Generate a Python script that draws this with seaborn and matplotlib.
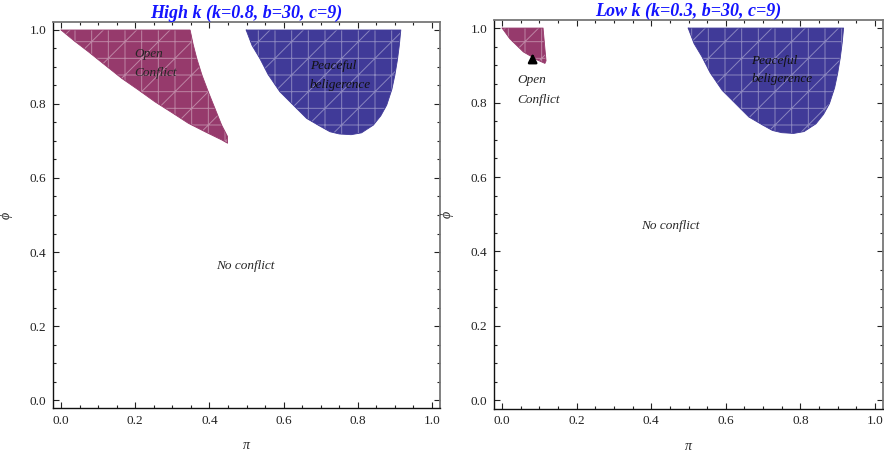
import matplotlib
matplotlib.use("Agg")
import matplotlib.pyplot as plt
import seaborn as sns
import numpy as np
import pandas as pd
from matplotlib.ticker import MultipleLocator

# ---------------- data ----------------
titles = ["High k (k=0.8, b=30, c=9)", "Low k (k=0.3, b=30, c=9)"]

# Open conflict region, high k
open_high_pi = [0.0, 0.348, 0.356, 0.366, 0.380, 0.397, 0.415, 0.433, 0.449, 0.449,
                0.433, 0.390, 0.343, 0.300, 0.253, 0.210, 0.164, 0.120, 0.074, 0.035, 0.0]
open_high_phi = [1.0, 1.0, 0.962, 0.923, 0.878, 0.833, 0.788, 0.743, 0.712, 0.694,
                 0.703, 0.724, 0.748, 0.776, 0.806, 0.837, 0.869, 0.904, 0.941, 0.971, 1.0]

# Open conflict region, low k
open_low_pi = [0.0, 0.110, 0.114, 0.118, 0.115, 0.093, 0.057, 0.021, 0.0]
open_low_phi = [1.0, 1.0, 0.955, 0.912, 0.905, 0.915, 0.936, 0.971, 1.0]

# Peaceful beligerence region (both panels)
peace_pi = [0.499, 0.916, 0.912, 0.907, 0.900, 0.892, 0.878, 0.862, 0.842, 0.810, 0.782,
            0.750, 0.725, 0.698, 0.662, 0.631, 0.590, 0.558, 0.536, 0.515, 0.499]
peace_phi = [1.0, 1.0, 0.959, 0.920, 0.878, 0.840, 0.797, 0.768, 0.743, 0.722, 0.717,
             0.719, 0.725, 0.740, 0.761, 0.792, 0.833, 0.880, 0.923, 0.958, 1.0]

# label positions
open_label_pos = [(0.198, 0.934, 0.883), (0.042, 0.860, 0.808)]
peace_label_pos = [(0.671, 0.903, 0.851), (0.669, 0.911, 0.862)]
noconf_label_pos = [(0.496, 0.362), (0.45, 0.468)]
arrow_low = ((0.082, 0.900), (0.082, 0.940))

tick_major = [0.0, 0.2, 0.4, 0.6, 0.8, 1.0]

# ---------------- style ----------------
sns.set_theme(style="ticks")
serif = ["Liberation Serif", "DejaVu Serif"]
plt.rcParams["font.family"] = serif
plt.rcParams["hatch.linewidth"] = 0.7
plt.rcParams["axes.facecolor"] = "white"

maroon = np.array([150, 58, 108]) / 255
navy = np.array([64, 58, 152]) / 255
def lighter(c, a=0.38):
    return tuple(c * (1 - a) + np.ones(3) * a)

fig = plt.figure(figsize=(8.84, 4.57), dpi=100)
W, H = 884, 457
ax1 = fig.add_axes([53 / W, 49 / H, 387 / W, 386 / H])
ax2 = fig.add_axes([494 / W, 48.5 / H, 389 / W, 388.5 / H])
axes = [ax1, ax2]

regions_open = [(open_high_pi, open_high_phi), (open_low_pi, open_low_phi)]

for i, ax in enumerate(axes):
    for (px, py), col in [(regions_open[i], maroon), ((peace_pi, peace_phi), navy)]:
        ax.fill(px, py, facecolor=tuple(col), edgecolor=lighter(col), linewidth=0,
                hatch="+/", zorder=2)
        df = pd.DataFrame({"pi": px, "phi": py})
        sns.lineplot(data=df, x="pi", y="phi", sort=False, estimator=None,
                     color=tuple(col), linewidth=0.6, ax=ax, zorder=3)

    ox, oy1, oy2 = open_label_pos[i]
    ax.text(ox, oy1, "Open", style="italic", fontsize=9.5, ha="left", va="center", zorder=5)
    ax.text(ox, oy2, "Conflict", style="italic", fontsize=9.5, ha="left", va="center", zorder=5)
    qx, qy1, qy2 = peace_label_pos[i]
    ax.text(qx, qy1, "Peaceful", style="italic", fontsize=9.5, ha="left", va="center",
            color="#111111", zorder=5)
    ax.text(qx, qy2, "beligerence", style="italic", fontsize=9.5, ha="left", va="center",
            color="#111111", zorder=5)
    nx, ny = noconf_label_pos[i]
    ax.text(nx, ny, "No conflict", style="italic", fontsize=9.5, ha="center", va="center", zorder=5)

    ax.set_xlim(-0.0216, 1.0216)
    ax.set_ylim(-0.0216, 1.0216)
    ax.set_xticks(tick_major)
    ax.set_yticks(tick_major)
    ax.set_xticklabels([f"{t:.1f}" for t in tick_major])
    ax.set_yticklabels([f"{t:.1f}" for t in tick_major])
    ax.xaxis.set_minor_locator(MultipleLocator(0.05))
    ax.yaxis.set_minor_locator(MultipleLocator(0.05))
    ax.tick_params(which="both", direction="in", top=True, right=True,
                   labelsize=9.5, colors="#222222", width=0.8)
    ax.tick_params(which="major", length=4.5, pad=5)
    ax.tick_params(which="minor", length=2.2)
    ax.set_xlabel("π", style="italic", fontsize=10, labelpad=9)
    ax.set_ylabel("ϕ", style="italic", fontsize=10, labelpad=12)
    for s in ["left", "bottom"]:
        ax.spines[s].set_color("#111111")
        ax.spines[s].set_linewidth(1.0)
    for s in ["top", "right"]:
        ax.spines[s].set_color("#777777")
        ax.spines[s].set_linewidth(1.3)
    ax.set_title(titles[i], color="#1414ff", fontsize=13, fontweight="bold",
                 style="italic", pad=2)

ax2.annotate("", xy=arrow_low[1], xytext=arrow_low[0],
             arrowprops=dict(arrowstyle="-|>", color="black", lw=1.8, mutation_scale=13),
             zorder=6)

fig.savefig("out.png", dpi=100)
